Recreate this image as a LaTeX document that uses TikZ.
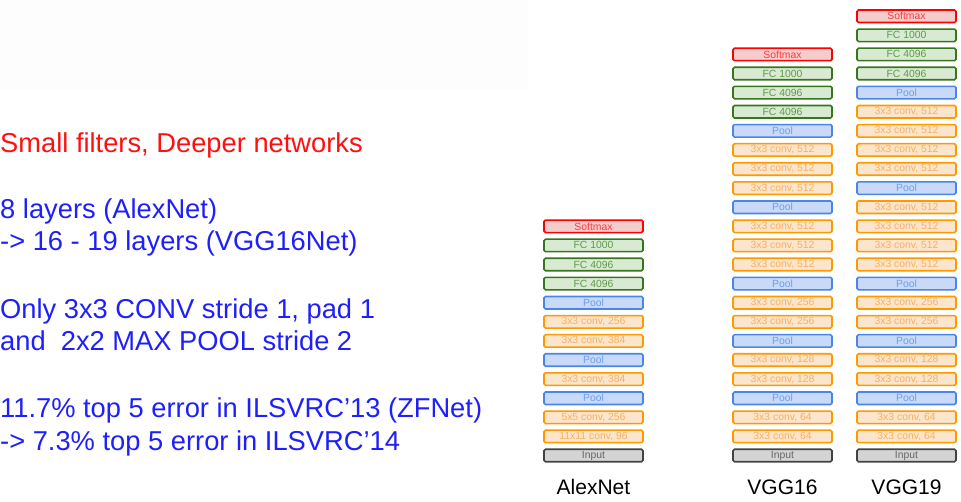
\documentclass[tikz,border=0pt]{standalone}
\usepackage{fontspec}
\setmainfont{Liberation Sans}
\usetikzlibrary{positioning}
\definecolor{softline}{HTML}{FF0000}
\definecolor{softfill}{HTML}{F4CCCC}
\definecolor{softink}{HTML}{FF3B3B}
\definecolor{fcline}{HTML}{38761D}
\definecolor{fcfill}{HTML}{D9EAD3}
\definecolor{fcink}{HTML}{5E9A4A}
\definecolor{poolline}{HTML}{4A86E8}
\definecolor{poolfill}{HTML}{C9DAF8}
\definecolor{poolink}{HTML}{6D9EEB}
\definecolor{convline}{HTML}{FF9900}
\definecolor{convfill}{HTML}{FCE5CD}
\definecolor{convink}{HTML}{F8B060}
\definecolor{inline}{HTML}{434343}
\definecolor{infill}{HTML}{D4D4D4}
\definecolor{inink}{HTML}{666666}
\definecolor{headred}{HTML}{FF1010}
\definecolor{noteblue}{HTML}{1F1FFA}
\tikzset{
  layer/.style   = {rounded corners=1.5pt, line width=1.6pt, minimum width=99pt,
                    minimum height=12.5pt, inner sep=0pt, font=\fontsize{10.4}{11}\selectfont},
  softbox/.style = {layer, draw=softline, fill=softfill, text=softink},
  fcbox/.style   = {layer, draw=fcline, fill=fcfill, text=fcink},
  poolbox/.style = {layer, draw=poolline, fill=poolfill, text=poolink},
  convbox/.style = {layer, draw=convline, fill=convfill, text=convink},
  inbox/.style   = {layer, draw=inline, fill=infill, text=inink},
  netname/.style = {anchor=base, inner sep=0pt, font=\fontsize{21}{24}\selectfont},
  note/.style    = {anchor=base west, inner sep=0pt, text=noteblue, font=\fontsize{27.3}{30}\selectfont},
}
\begin{document}
\begin{tikzpicture}[x=1pt,y=-1pt]
  \useasboundingbox (0,0) rectangle (961,501);
  \fill[black!0.8] (0,0) rectangle (528,90);
  % left column of notes
  \node[note,text=headred] (head) at (0,152) {Small filters, Deeper networks};
  \node[note] (n1) at (0,218) {8 layers (AlexNet)};
  \node[note] (n2) at (0,250) {-> 16 - 19 layers (VGG16Net)};
  \node[note] (n3) at (0,318) {Only 3x3 CONV stride 1, pad 1};
  \node[note] (n4) at (0,350) {and \ 2x2 MAX POOL stride 2};
  \node[note] (n5) at (0,417) {11.7\% top 5 error in ILSVRC’13 (ZFNet)};
  \node[note] (n6) at (0,450) {-> 7.3\% top 5 error in ILSVRC’14};
  % AlexNet, bottom to top
  \foreach \sty/\lab [count=\i from 0] in {inbox/Input, convbox/{11x11 conv, 96},
      convbox/{5x5 conv, 256}, poolbox/Pool, convbox/{3x3 conv, 384}, poolbox/Pool,
      convbox/{3x3 conv, 384}, convbox/{3x3 conv, 256}, poolbox/Pool,
      fcbox/FC 4096, fcbox/FC 4096, fcbox/FC 1000, softbox/Softmax}
    \node[\sty] (alex\i) at (593.5,{455.5-19.1*\i}) {\lab};
  % VGG16
  \foreach \sty/\lab [count=\i from 0] in {inbox/Input, convbox/{3x3 conv, 64},
      convbox/{3x3 conv, 64}, poolbox/Pool, convbox/{3x3 conv, 128}, convbox/{3x3 conv, 128},
      poolbox/Pool, convbox/{3x3 conv, 256}, convbox/{3x3 conv, 256}, poolbox/Pool,
      convbox/{3x3 conv, 512}, convbox/{3x3 conv, 512}, convbox/{3x3 conv, 512}, poolbox/Pool,
      convbox/{3x3 conv, 512}, convbox/{3x3 conv, 512}, convbox/{3x3 conv, 512}, poolbox/Pool,
      fcbox/FC 4096, fcbox/FC 4096, fcbox/FC 1000, softbox/Softmax}
    \node[\sty] (vggA\i) at (782.5,{455.5-19.1*\i}) {\lab};
  % VGG19
  \foreach \sty/\lab [count=\i from 0] in {inbox/Input, convbox/{3x3 conv, 64},
      convbox/{3x3 conv, 64}, poolbox/Pool, convbox/{3x3 conv, 128}, convbox/{3x3 conv, 128},
      poolbox/Pool, convbox/{3x3 conv, 256}, convbox/{3x3 conv, 256}, poolbox/Pool,
      convbox/{3x3 conv, 512}, convbox/{3x3 conv, 512}, convbox/{3x3 conv, 512},
      convbox/{3x3 conv, 512}, poolbox/Pool,
      convbox/{3x3 conv, 512}, convbox/{3x3 conv, 512}, convbox/{3x3 conv, 512},
      convbox/{3x3 conv, 512}, poolbox/Pool,
      fcbox/FC 4096, fcbox/FC 4096, fcbox/FC 1000, softbox/Softmax}
    \node[\sty] (vggB\i) at (906.5,{455.5-19.1*\i}) {\lab};
  % column names
  \node[netname] (alexname) at (593.5,494) {AlexNet};
  \node[netname] (vggAname) at (782.5,494) {VGG16};
  \node[netname] (vggBname) at (906.5,494) {VGG19};
\end{tikzpicture}
\end{document}
